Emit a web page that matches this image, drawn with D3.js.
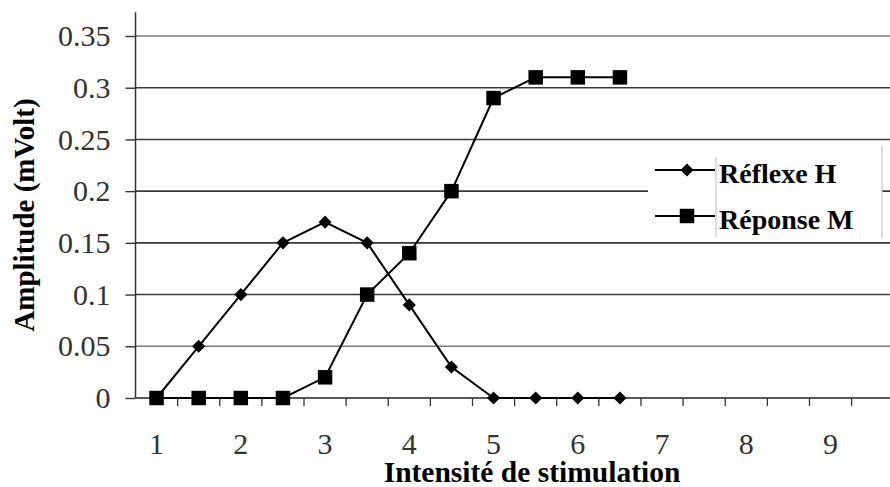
<!DOCTYPE html>
<html>
<head>
<meta charset="utf-8">
<script src="https://d3js.org/d3.v7.min.js"></script>
<style>
  body { margin: 0; background: #fff; }
</style>
</head>
<body>
<svg id="chart" width="890" height="487" font-family="'Liberation Serif', 'Times New Roman', serif"></svg>
<script>
// categories on the x axis (Excel style category axis)
var categories = ["1","1.5","2","2.5","3","3.5","4","4.5","5","5.5","6","6.5","7","7.5","8","8.5","9","9.5"];
var xLabels = ["1","2","3","4","5","6","7","8","9"];
var yTicks = [0, 0.05, 0.1, 0.15, 0.2, 0.25, 0.3, 0.35];

var reflexeH = [0, 0.05, 0.1, 0.15, 0.17, 0.15, 0.09, 0.03, 0, 0, 0, 0];
var reponseM = [0, 0, 0, 0, 0.02, 0.1, 0.14, 0.2, 0.29, 0.31, 0.31, 0.31];

var serif = "'Liberation Serif', 'Times New Roman', serif";
var svg = d3.select("#chart");
var left = 135.5, step = 42.125, bottom = 398;

var x = d3.scaleBand().domain(categories).range([left, left + step * categories.length]);
var y = d3.scaleLinear().domain([0, 0.35]).range([bottom, 36]);
var cx = c => x(c) + x.bandwidth() / 2;

// horizontal gridlines
svg.append("g").selectAll("line")
  .data(yTicks.slice(1))
  .join("line")
    .attr("x1", left).attr("x2", 890)
    .attr("y1", d => y(d)).attr("y2", d => y(d))
    .attr("stroke", d => (d == 0.35 || d == 0.05) ? "#7a7a7a" : "#3a3a3a")
    .attr("stroke-width", 1.6);

// y axis
var yAxis = svg.append("g")
  .attr("transform", "translate(" + left + ",0)")
  .call(d3.axisLeft(y).tickValues(yTicks).tickSize(10).tickPadding(15)
        .tickFormat(d => d3.format("")(+d.toFixed(2))));
yAxis.attr("font-family", serif);
yAxis.select(".domain").remove();
yAxis.selectAll("line").attr("stroke", "#333").attr("stroke-width", 1.4);
yAxis.selectAll("text")
  .attr("font-family", serif).attr("font-size", 30).attr("fill", "#333");
svg.append("line")
  .attr("x1", left).attr("x2", left)
  .attr("y1", y(0)).attr("y2", y(0.373))
  .attr("stroke", "#333").attr("stroke-width", 1.5);

// x axis
var xAxis = svg.append("g")
  .attr("transform", "translate(0," + bottom + ")");
xAxis.append("line")
  .attr("x1", left).attr("x2", 890)
  .attr("stroke", "#222").attr("stroke-width", 1.5);
xAxis.selectAll("line.tick")
  .data(categories)
  .join("line")
    .attr("class", "tick")
    .attr("x1", d => x(d) + x.bandwidth()).attr("x2", d => x(d) + x.bandwidth())
    .attr("y1", 0).attr("y2", 8)
    .attr("stroke", "#333").attr("stroke-width", 1.3);
xAxis.selectAll("text")
  .data(xLabels)
  .join("text")
    .attr("x", d => cx(d))
    .attr("y", 56)
    .attr("text-anchor", "middle")
    .attr("font-family", serif)
    .attr("font-size", 30)
    .attr("fill", "#333")
    .text(d => d);

// titles
svg.append("text")
  .attr("x", 532).attr("y", 482)
  .attr("text-anchor", "middle")
  .attr("font-family", serif)
  .attr("font-size", 29.5).attr("font-weight", "bold")
  .text("Intensité de stimulation");
svg.append("text")
  .attr("transform", "translate(34,215) rotate(-90)")
  .attr("text-anchor", "middle")
  .attr("font-family", serif)
  .attr("font-size", 29).attr("font-weight", "bold")
  .text("Amplitude (mVolt)");

var diamond = d3.symbol().type(d3.symbolDiamond2).size(110);
var square = d3.symbol().type(d3.symbolSquare).size(210);

var line = d3.line().x((d, i) => cx(categories[i])).y(d => y(d));

function drawSeries(vals, sym) {
  svg.append("path")
    .attr("d", line(vals))
    .attr("fill", "none").attr("stroke", "#000").attr("stroke-width", 2);
  svg.append("g").selectAll("path")
    .data(vals)
    .join("path")
      .attr("d", sym)
      .attr("transform", (d, i) => "translate(" + cx(categories[i]) + "," + y(d) + ")")
      .attr("fill", "#000");
}
drawSeries(reponseM, square);
drawSeries(reflexeH, diamond);

// legend
var lg = svg.append("g");
lg.append("rect")
  .attr("x", 648).attr("y", 146).attr("width", 234).attr("height", 92)
  .attr("fill", "#fff");
lg.append("line").attr("x1", 716).attr("x2", 716).attr("y1", 157).attr("y2", 237)
  .attr("stroke", "#bbb").attr("stroke-width", 1);
lg.append("line").attr("x1", 882).attr("x2", 882).attr("y1", 146).attr("y2", 238)
  .attr("stroke", "#bbb").attr("stroke-width", 1);
var legendItems = [
  {name: "Réflexe H", sym: diamond, yy: 170},
  {name: "Réponse M", sym: square, yy: 216}
];
legendItems.forEach(function(d) {
  lg.append("line")
    .attr("x1", 655).attr("x2", 715).attr("y1", d.yy).attr("y2", d.yy)
    .attr("stroke", "#000").attr("stroke-width", 2);
  lg.append("path")
    .attr("d", d.sym)
    .attr("transform", "translate(687," + d.yy + ")")
    .attr("fill", "#000");
  lg.append("text")
    .attr("x", 719).attr("y", d.yy + 13)
    .attr("font-family", serif)
    .attr("font-size", 28).attr("font-weight", "bold")
    .text(d.name);
});
</script>
</body>
</html>
